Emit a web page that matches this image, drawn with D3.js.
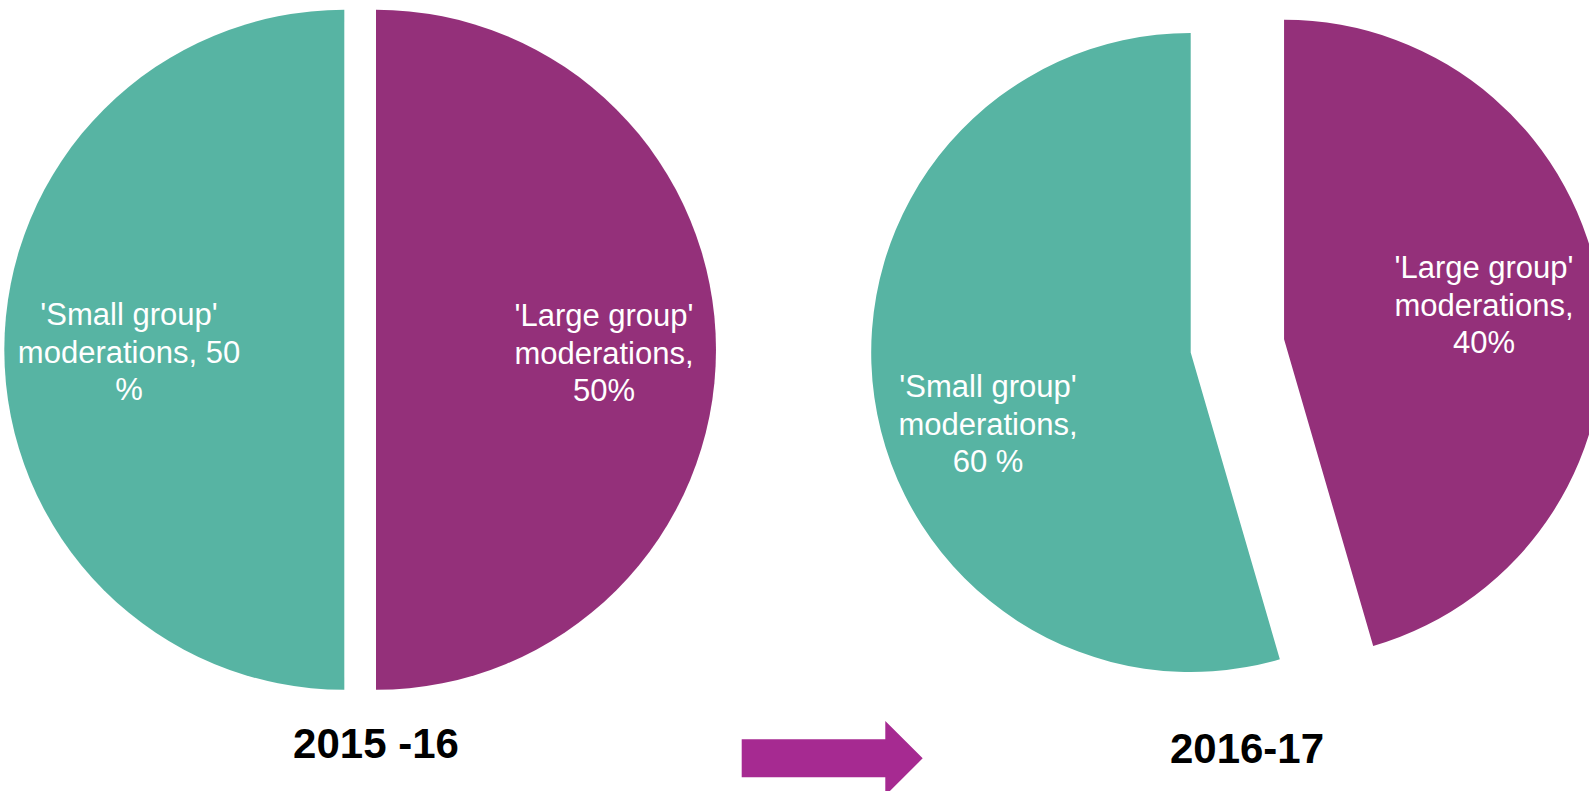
<!DOCTYPE html>
<html>
<head>
<meta charset="utf-8">
<script src="https://cdn.jsdelivr.net/npm/d3@7"></script>
<style>
  html, body { margin: 0; padding: 0; background: #ffffff; }
  svg { display: block; }
</style>
</head>
<body>
<svg id="chart" width="1589" height="791"></svg>
<script>
// ---- data ----
const categories = ["'Large group' moderations", "'Small group' moderations"];
const years = ["2015 -16", "2016-17"];
const values2015 = [50, 50];        // large, small (slice shares)
const values2016 = [45.5, 54.5];    // large, small (slice shares as drawn)
const labels2015 = [["'Large group'", "moderations,", "50%"], ["'Small group'", "moderations, 50", "%"]];
const labels2016 = [["'Large group'", "moderations,", "40%"], ["'Small group'", "moderations,", "60 %"]];

// ---- styling / layout ----
const colors = ["#94307A", "#57B4A3"];
const svg = d3.select("#chart");
const font = "'Liberation Sans', Arial, sans-serif";

const pies = [
  { values: values2015, labels: labels2015, title: years[0],
    cx: 344.3, cy: 349.8, r: 340, explode: [31.7, 0],
    labelPos: [[604, 326], [129, 325]], titlePos: [376, 758] },
  { values: values2016, labels: labels2016, title: years[1],
    cx: 1190.7, cy: 352.5, r: 319.5, explode: [94.3, 0],
    labelPos: [[1484, 278], [988, 397]], titlePos: [1247, 763] }
];

const pieGen = d3.pie().sort(null).value(d => d);

pies.forEach(p => {
  const arcGen = d3.arc().innerRadius(0).outerRadius(p.r);
  const arcs = pieGen(p.values);
  const g = svg.append("g").attr("transform", `translate(${p.cx},${p.cy})`);
  g.selectAll("path")
    .data(arcs)
    .join("path")
    .attr("d", arcGen)
    .attr("fill", (d, i) => colors[i])
    .attr("transform", (d, i) => {
      const mid = (d.startAngle + d.endAngle) / 2;
      const e = p.explode[i];
      return `translate(${e * Math.sin(mid)},${-e * Math.cos(mid)})`;
    });

  // data labels
  arcs.forEach((d, i) => {
    const [lx, ly] = p.labelPos[i];
    const t = svg.append("text")
      .attr("x", lx).attr("y", ly)
      .attr("text-anchor", "middle")
      .attr("fill", "#ffffff")
      .style("font-family", font)
      .style("font-size", "31px");
    p.labels[i].forEach((line, k) => {
      t.append("tspan").attr("x", lx).attr("y", ly + k * 37.5).text(line);
    });
  });

  // title
  svg.append("text")
    .attr("x", p.titlePos[0]).attr("y", p.titlePos[1])
    .attr("text-anchor", "middle")
    .attr("fill", "#000000")
    .style("font-family", font)
    .style("font-weight", "bold")
    .style("font-size", "42px")
    .text(p.title);
});

// arrow between the two years
const arrowPts = [[741.7, 739.3], [885.3, 739.3], [885.3, 721], [922.7, 758.3],
                  [885.3, 795.6], [885.3, 777.3], [741.7, 777.3]];
svg.append("path")
  .attr("d", d3.line()(arrowPts) + "Z")
  .attr("fill", "#A62A91");
</script>
</body>
</html>
